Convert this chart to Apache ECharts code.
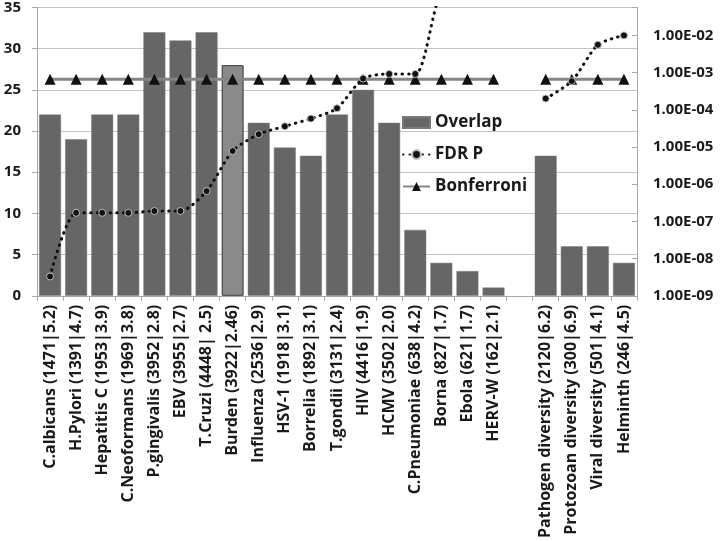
<!DOCTYPE html>
<html>
<head>
<meta charset="utf-8">
<script src="https://cdn.jsdelivr.net/npm/echarts@6/dist/echarts.min.js"></script>
<style>html,body{margin:0;padding:0;background:#fff}#c{width:721px;height:541px}</style>
</head>
<body>
<div id="c"></div>
<script>
const categories = [
  'C.albicans (1471|5.2)', 'H.Pylori (1391|4.7)', 'Hepatitis C (1953|3.9)', 'C.Neoformans (1969|3.8)',
  'P.gingivalis (3952|2.8)', 'EBV (3955|2.7)', 'T.Cruzi (4448| 2.5)', 'Burden (3922|2.46)',
  'Influenza (2536|2.9)', 'HSV-1 (1918|3.1)', 'Borrelia (1892|3.1)', 'T.gondii (3131|2.4)',
  'HIV (4416|1.9)', 'HCMV (3502|2.0)', 'C.Pneumoniae (638|4.2)', 'Borna (827|1.7)',
  'Ebola (621|1.7)', 'HERV-W (162|2.1)', '',
  'Pathogen diversity (2120|6.2)', 'Protozoan diversity (300|6.9)', 'Viral diversity (501|4.1)', 'Helminth (246|4.5)'
];
const overlap = [22, 19, 22, 22, 32, 31, 32, 28, 21, 18, 17, 22, 25, 21, 8, 4, 3, 1, null, 17, 6, 6, 4];
const fdrP = [3.3e-9, 1.7e-7, 1.7e-7, 1.7e-7, 1.9e-7, 1.9e-7, 6.5e-7, 7.8e-6, 2.2e-5, 3.6e-5, 5.8e-5, 1.1e-4,
  6.9e-4, 9.2e-4, 9.2e-4, 0.15, 0.3, 0.5, null, 2.0e-4, 5.9e-4, 5.6e-3, 1.0e-2];
const bonferroni = [6.6e-4, 6.6e-4, 6.6e-4, 6.6e-4, 6.6e-4, 6.6e-4, 6.6e-4, 6.6e-4, 6.6e-4, 6.6e-4, 6.6e-4, 6.6e-4,
  6.6e-4, 6.6e-4, 6.6e-4, 6.6e-4, 6.6e-4, 6.6e-4, null, 6.6e-4, 6.6e-4, 6.6e-4, 6.6e-4];
const leftTicks = {min: 0, max: 35, interval: 5};
const rightRange = {min: 1e-9, max: Math.pow(10, -1.25)};
const highlightCategory = 'Burden (3922|2.46)';

const FONT = 'Open Sans';
const TXT = '#1a1a1a';
const chart = echarts.init(document.getElementById('c'));
const barData = overlap.map((v, i) => categories[i] === highlightCategory
  ? {value: v, itemStyle: {color: '#8a8a8a', borderColor: '#333', borderWidth: 1}}
  : v);
function expLabel(v) {
  const lg = Math.log10(v);
  const e = Math.round(lg);
  if (Math.abs(lg - e) > 0.01) return '';
  const a = Math.abs(e);
  return '1.00E' + (e < 0 ? '-' : '+') + (a < 10 ? '0' + a : a);
}
chart.setOption({
  animation: false,
  textStyle: {fontFamily: FONT},
  grid: {left: 37, right: 84, top: 5, bottom: 243, containLabel: false},
  legend: {
    orient: 'vertical', left: 402, top: 114, padding: 0, itemGap: 15, itemWidth: 27, itemHeight: 11,
    textStyle: {fontFamily: FONT, fontWeight: 'bold', fontSize: 17, color: TXT},
    data: [{name: 'Overlap', icon: 'rect'}, {name: 'FDR P'}, {name: 'Bonferroni'}]
  },
  xAxis: {
    type: 'category', data: categories,
    axisLine: {lineStyle: {color: '#a8a8a8', width: 1}},
    axisTick: {show: true, alignWithLabel: false, length: 5, lineStyle: {color: '#a8a8a8'}},
    axisLabel: {interval: 0, rotate: 90, fontFamily: FONT, fontWeight: 'bold', fontSize: 16, color: TXT, margin: 9}
  },
  yAxis: [
    {
      type: 'value', min: leftTicks.min, max: leftTicks.max, interval: leftTicks.interval,
      axisLine: {show: true, lineStyle: {color: '#a8a8a8'}},
      axisTick: {show: true, length: 5, lineStyle: {color: '#a8a8a8'}},
      splitLine: {show: true, lineStyle: {color: '#c4c4c4', width: 1}},
      axisLabel: {fontFamily: FONT, fontWeight: 'bold', fontSize: 15, color: TXT, margin: 16}
    },
    {
      type: 'log', logBase: 10, min: rightRange.min, max: rightRange.max, position: 'right',
      axisLine: {show: true, lineStyle: {color: '#a8a8a8'}},
      axisTick: {show: true, inside: true, length: 5, lineStyle: {color: '#a8a8a8'}},
      splitLine: {show: false},
      minorTick: {show: false},
      axisLabel: {fontFamily: FONT, fontWeight: 'bold', fontSize: 15, color: TXT, margin: 16, formatter: expLabel}
    }
  ],
  series: [
    {
      name: 'Overlap', type: 'bar', yAxisIndex: 0, data: barData, barCategoryGap: '16%',
      itemStyle: {color: '#666666', borderColor: '#7a7a7a', borderWidth: 0.5}, z: 1
    },
    {
      name: 'Bonferroni', type: 'line', yAxisIndex: 1, data: bonferroni, connectNulls: false,
      symbol: 'triangle', symbolSize: 11, showSymbol: true,
      lineStyle: {color: '#858585', width: 3},
      itemStyle: {color: '#111'}, z: 3
    },
    {
      name: 'FDR P', type: 'line', yAxisIndex: 1, data: fdrP, connectNulls: false, smooth: 0.25,
      symbol: 'circle', symbolSize: 7, showSymbol: true, clip: true,
      lineStyle: {color: '#111', width: 3, type: [0.5, 6], cap: 'round'},
      itemStyle: {color: '#111', borderColor: '#bdbdbd', borderWidth: 1}, z: 4
    }
  ]
});
</script>
</body>
</html>
